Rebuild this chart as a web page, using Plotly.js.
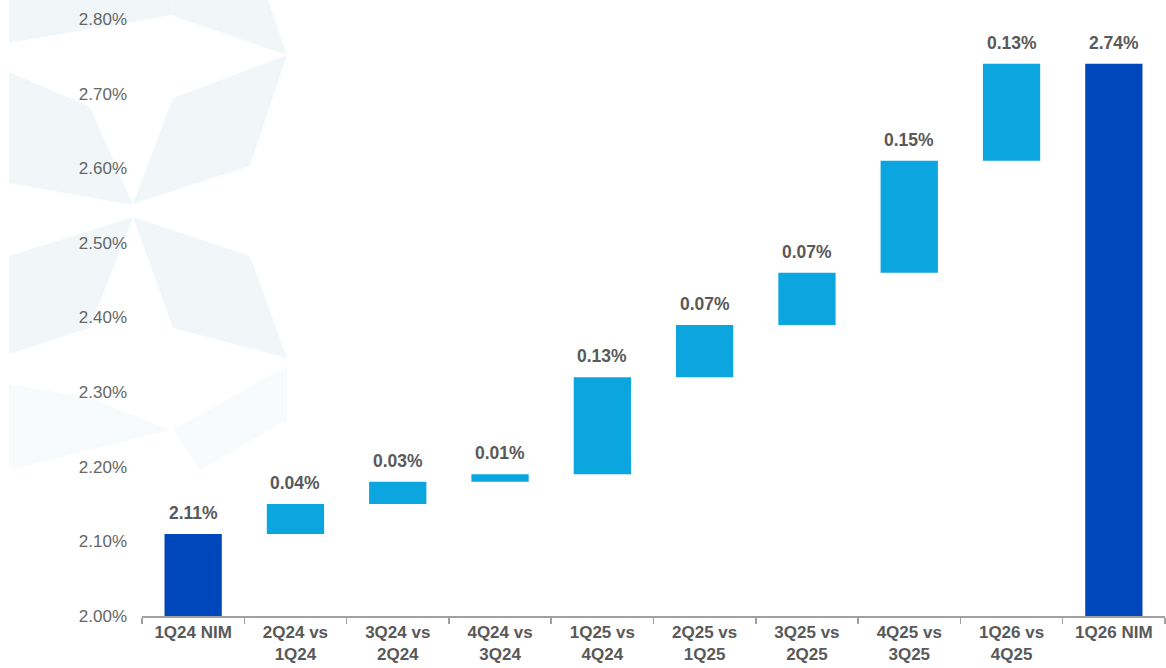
<!DOCTYPE html>
<html>
<head>
<meta charset="utf-8">
<script src="https://cdn.plot.ly/plotly-3.0.1.min.js"></script>
<style>html,body{margin:0;padding:0;background:#fff;}#chart{width:1166px;height:668px;}</style>
</head>
<body>
<div id="chart"></div>
<script>
// Data
const categories = ["1Q24 NIM","2Q24 vs<br>1Q24","3Q24 vs<br>2Q24","4Q24 vs<br>3Q24","1Q25 vs<br>4Q24","2Q25 vs<br>1Q25","3Q25 vs<br>2Q25","4Q25 vs<br>3Q25","1Q26 vs<br>4Q25","1Q26 NIM"];
const values = [2.11, 0.04, 0.03, 0.01, 0.13, 0.07, 0.07, 0.15, 0.13, 2.74];
const measures = ["absolute","relative","relative","relative","relative","relative","relative","relative","relative","total"];
const yTicks = [2.00, 2.10, 2.20, 2.30, 2.40, 2.50, 2.60, 2.70, 2.80];

// tops of each bar (for labels)
let run = 0;
const tops = values.map((v, i) => {
  if (measures[i] === "absolute") { run = v; return v; }
  if (measures[i] === "total") { return run; }
  run += v; return run;
});
const labels = values.map(v => v.toFixed(2) + "%");

const gray = "#595959";
const annotations = categories.map((c, i) => ({
  x: c, y: tops[i], xref: "x", yref: "y",
  text: "<b>" + labels[i] + "</b>", showarrow: false,
  yanchor: "middle", yshift: 21,
  font: {family: "Liberation Sans, Arial, sans-serif", size: 17.5, color: gray}
}));

// faint watermark (pixel coords -> paper coords)
const L = 142, R = 1165, T = 19, B = 616;
function pth(pts) {
  return pts.map((p, i) => (i ? "L" : "M") + ((p[0]-L)/(R-L)).toFixed(4) + "," + ((B-p[1])/(B-T)).toFixed(4)).join(" ") + " Z";
}
const polys = [
  [[9,0],[172,0],[173,15],[9,43]],
  [[172,0],[268,0],[287,55],[173,16]],
  [[133,204],[173,98],[287,55],[250,166]],
  [[9,72],[90,107],[133,205],[9,183]],
  [[9,256],[133,217],[90,328],[9,354]],
  [[133,217],[250,256],[287,358],[173,328]],
  [[9,384],[90,398],[170,430],[9,470]],
  [[173,430],[287,366],[287,420],[200,470]]
];
const shapes = polys.map((p, i) => ({
  type: "path", xref: "paper", yref: "paper", path: pth(p),
  fillcolor: i >= 6 ? "#F7FBFC" : "#F1F7F9", line: {width: 0}, layer: "below"
}));

const trace = {
  type: "waterfall",
  x: categories,
  y: values,
  measure: measures,
  increasing: {marker: {color: "#0BA6DF"}},
  decreasing: {marker: {color: "#0BA6DF"}},
  totals: {marker: {color: "#0047BB"}},
  connector: {visible: false},
  textinfo: "none",
  hoverinfo: "x+y",
  cliponaxis: true
};

const layout = {
  width: 1166, height: 668,
  margin: {l: L, r: 1166 - R, t: T, b: 668 - B},
  paper_bgcolor: "rgba(0,0,0,0)",
  plot_bgcolor: "rgba(0,0,0,0)",
  showlegend: false,
  waterfallgap: 0.44,
  font: {family: "Liberation Sans, Arial, sans-serif", color: gray},
  xaxis: {
    type: "category",
    showline: true, linecolor: "#A0A0A0", linewidth: 1.5,
    ticks: "outside", tickson: "boundaries", ticklen: 6, tickcolor: "#A0A0A0", tickwidth: 1.5,
    tickfont: {family: "Liberation Sans, Arial, sans-serif", size: 17, color: gray, weight: "bold"},
    showgrid: false, zeroline: false, fixedrange: true
  },
  yaxis: {
    range: [2.0, 2.8],
    tickvals: yTicks,
    ticktext: yTicks.map(v => v.toFixed(2) + "%"),
    showgrid: false, zeroline: false, showline: false, ticks: "",
    ticklabelstandoff: 14,
    tickfont: {family: "Liberation Sans, Arial, sans-serif", size: 17, color: "#666666"},
    fixedrange: true
  },
  annotations: annotations,
  shapes: shapes
};

Plotly.newPlot("chart", [trace], layout, {displayModeBar: false, staticPlot: true});
</script>
</body>
</html>
